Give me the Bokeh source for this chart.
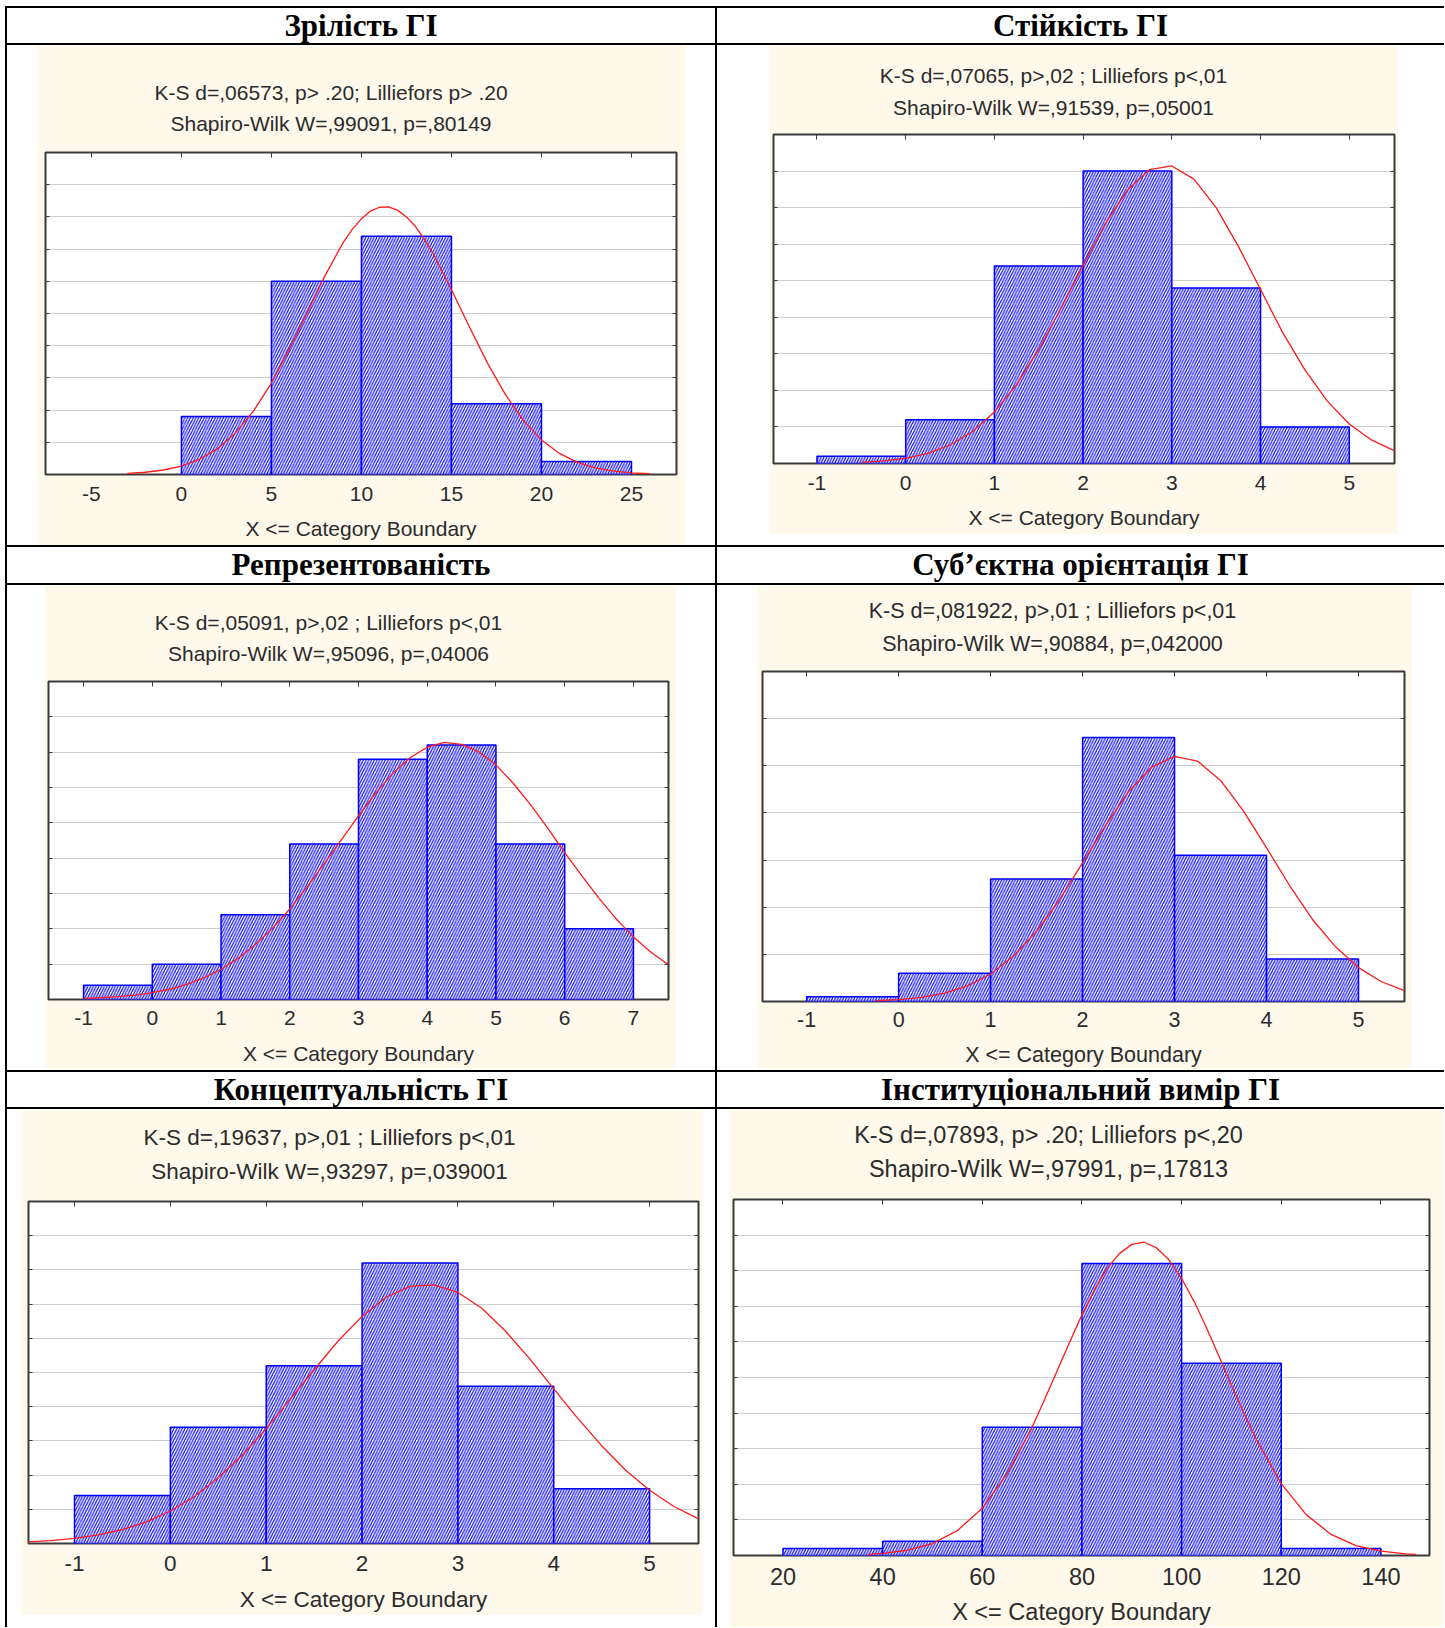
from bokeh.plotting import figure
from bokeh.layouts import row, column
from bokeh.models import (Range1d, Spacer, Title, LinearAxis, FixedTicker, Div,
                          SingleIntervalTicker, ColumnDataSource)
from bokeh.embed import file_html
from bokeh.resources import INLINE

# ---------------- data ----------------
titles = ["Зрілість ГІ", "Стійкість ГІ", "Репрезентованість",
          "Суб’єктна орієнтація ГІ", "Концептуальність ГІ", "Інституціональний вимір ГІ"]

stats_line1 = ["K-S d=,06573, p> .20; Lilliefors p> .20",
               "K-S d=,07065, p>,02 ; Lilliefors p<,01",
               "K-S d=,05091, p>,02 ; Lilliefors p<,01",
               "K-S d=,081922, p>,01 ; Lilliefors p<,01",
               "K-S d=,19637, p>,01 ; Lilliefors p<,01",
               "K-S d=,07893, p> .20; Lilliefors p<,20"]
stats_line2 = ["Shapiro-Wilk W=,99091, p=,80149",
               "Shapiro-Wilk W=,91539, p=,05001",
               "Shapiro-Wilk W=,95096, p=,04006",
               "Shapiro-Wilk W=,90884, p=,042000",
               "Shapiro-Wilk W=,93297, p=,039001",
               "Shapiro-Wilk W=,97991, p=,17813"]

x_label = "X <= Category Boundary"

edges1 = [0, 5, 10, 15, 20, 25]
counts1 = [9, 30, 37, 11, 2]
edges2 = [-1, 0, 1, 2, 3, 4, 5]
counts2 = [1, 6, 27, 40, 24, 5]
edges3 = [-1, 0, 1, 2, 3, 4, 5, 6, 7]
counts3 = [2, 5, 12, 22, 34, 36, 22, 10]
edges4 = [-1, 0, 1, 2, 3, 4, 5]
counts4 = [1, 6, 26, 56, 31, 9]
edges5 = [-1, 0, 1, 2, 3, 4, 5]
counts5 = [7, 17, 26, 41, 23, 8]
edges6 = [20, 40, 60, 80, 100, 120, 140]
counts6 = [1, 2, 18, 41, 27, 1]

curve1_x = [-3, -2, -1, 0, 1, 2, 3, 4, 5, 6, 7, 8, 9, 9.5, 10, 10.5, 11, 11.5, 12, 12.5,
            13, 13.5, 14, 15, 16, 17, 18, 19, 20, 21, 22, 23, 24, 25, 26]
curve1_y = [0.16, 0.35, 0.70, 1.31, 2.36, 4.01, 6.46, 9.85, 14.2, 19.5, 25.2, 31.0, 36.1, 38.1,
            39.7, 40.9, 41.5, 41.55, 41.05, 40.0, 38.5, 36.5, 34.2, 28.7, 22.9, 17.3, 12.4,
            8.37, 5.37, 3.27, 1.88, 1.03, 0.53, 0.26, 0.12]
curve2_x = [-0.5, -0.25, 0, 0.25, 0.5, 0.75, 1, 1.25, 1.5, 1.75, 2, 2.25, 2.5, 2.75, 3, 3.25,
            3.5, 3.75, 4, 4.25, 4.5, 4.75, 5, 5.25, 5.5]
curve2_y = [0.16, 0.35, 0.71, 1.38, 2.53, 4.34, 7.05, 10.8, 15.6, 21.2, 27.1, 32.8, 37.4, 40.2,
            40.7, 38.9, 35.0, 29.7, 23.8, 17.9, 12.8, 8.57, 5.41, 3.22, 1.80]
curve3_x = [-1, -0.75, -0.5, -0.25, 0, 0.25, 0.5, 0.75, 1, 1.25, 1.5, 1.75, 2, 2.25, 2.5, 2.75,
            3, 3.25, 3.5, 3.75, 4, 4.25, 4.5, 4.75, 5, 5.25, 5.5, 5.75, 6, 6.25, 6.5, 6.75, 7,
            7.25, 7.5]
curve3_y = [0.15, 0.25, 0.40, 0.63, 0.97, 1.45, 2.14, 3.06, 4.28, 5.85, 7.78, 10.1, 12.8, 15.9,
            19.2, 22.6, 26.0, 29.2, 32.0, 34.2, 35.7, 36.4, 36.1, 35.05, 33.2, 30.6, 27.6, 24.3,
            20.8, 17.5, 14.3, 11.4, 8.86, 6.73, 4.98]
curve4_x = [-0.25, 0, 0.25, 0.5, 0.75, 1, 1.25, 1.5, 1.75, 2, 2.25, 2.5, 2.75, 3, 3.25, 3.5,
            3.75, 4, 4.25, 4.5, 4.75, 5, 5.25, 5.5]
curve4_y = [0.18, 0.41, 0.88, 1.77, 3.32, 5.84, 9.64, 14.9, 21.6, 29.4, 37.3, 44.5, 49.7, 52.0,
            51.0, 46.9, 40.4, 32.6, 24.6, 17.4, 11.6, 7.19, 4.19, 2.29]
curve5_x = [-1.5, -1.25, -1, -0.75, -0.5, -0.25, 0, 0.25, 0.5, 0.75, 1, 1.25, 1.5, 1.75, 2,
            2.25, 2.5, 2.75, 3, 3.25, 3.5, 3.75, 4, 4.25, 4.5, 4.75, 5, 5.25, 5.5]
curve5_y = [0.24, 0.43, 0.75, 1.26, 2.03, 3.16, 4.75, 6.88, 9.62, 12.9, 16.8, 21.1, 25.4, 29.6,
            33.2, 36.0, 37.6, 37.8, 36.7, 34.4, 31.0, 27.0, 22.6, 18.3, 14.3, 10.7, 7.79, 5.45,
            3.68]
curve6_x = [37, 40, 45, 50, 55, 60, 65, 70, 72.5, 75, 77.5, 80, 82.5, 85, 87.5, 90, 92.5, 95,
            97.5, 100, 102.5, 105, 107.5, 110, 112.5, 115, 120, 125, 130, 135, 140, 145, 147]
curve6_y = [0.16, 0.29, 0.74, 1.68, 3.50, 6.64, 11.5, 18.0, 21.9, 25.9, 29.9, 33.8, 37.3, 40.3,
            42.4, 43.7, 44.0, 43.2, 41.5, 38.9, 35.7, 32.0, 28.0, 23.9, 20.0, 16.3, 10.1, 5.74,
            2.96, 1.39, 0.60, 0.23, 0.15]

ticks1 = [-5, 0, 5, 10, 15, 20, 25]
ticks2 = [-1, 0, 1, 2, 3, 4, 5]
ticks3 = [-1, 0, 1, 2, 3, 4, 5, 6, 7]
ticks4 = [-1, 0, 1, 2, 3, 4, 5]
ticks5 = [-1, 0, 1, 2, 3, 4, 5]
ticks6 = [20, 40, 60, 80, 100, 120, 140]
tick_labels1 = ["-5", "0", "5", "10", "15", "20", "25"]
tick_labels2 = ["-1", "0", "1", "2", "3", "4", "5"]
tick_labels3 = ["-1", "0", "1", "2", "3", "4", "5", "6", "7"]
tick_labels4 = ["-1", "0", "1", "2", "3", "4", "5"]
tick_labels5 = ["-1", "0", "1", "2", "3", "4", "5"]
tick_labels6 = ["20", "40", "60", "80", "100", "120", "140"]

grid_step = [5, 5, 5, 10, 5, 5]
x_lo = [-7.55, -1.49, -1.51, -1.48, -1.48, 10.07]
x_hi = [27.5, 5.51, 7.51, 5.5, 5.51, 149.75]
y_hi = [50, 45, 45, 70, 50, 50]

edges = [edges1, edges2, edges3, edges4, edges5, edges6]
counts = [counts1, counts2, counts3, counts4, counts5, counts6]
curves_x = [curve1_x, curve2_x, curve3_x, curve4_x, curve5_x, curve6_x]
curves_y = [curve1_y, curve2_y, curve3_y, curve4_y, curve5_y, curve6_y]
ticks = [ticks1, ticks2, ticks3, ticks4, ticks5, ticks6]
tick_labels = [tick_labels1, tick_labels2, tick_labels3, tick_labels4, tick_labels5, tick_labels6]

# ---------------- styles / geometry ----------------
CREAM = "#FFF9EC"
TXT = "#2b2b2b"
FRAME = "#3a3a3a"
SANS = "Liberation Sans"
SERIF = "Liberation Serif"

# advance widths (1/1000 em) of Liberation Sans, used to place the statistics lines
ADV = {" ": 278, ",": 278, "-": 333, ".": 278, ";": 278, "<": 584, "=": 584, ">": 584,
       "K": 667, "S": 667, "L": 556, "W": 944, "a": 556, "d": 556, "e": 556, "f": 278,
       "h": 556, "i": 222, "k": 500, "l": 222, "o": 556, "p": 556, "r": 333, "s": 500}


def text_width(s, fs):
    return sum(ADV.get(ch, 556) for ch in s) * fs / 1000.0


W = 1439
LEFT_W = 708
RIGHT_W = W - 2 - LEFT_W - 2
TITLE_H = [35, 36, 35]
CONTENT_H = [500, 485, 518]

# per cell: left pad, top pad, figure size, borders (l, r, t, b), font size,
# tick-label standoff, axis-label standoff, stats x offset from frame centre,
# title standoffs (line2, line1) and the gap kept between frame and the stats lines
cells = [
    dict(pad_l=29, pad_t=0, fw=649, fh=500, mb=(9, 9, 107, 71), fs=21, ts=12, als=13,
         off=-30, s2=12, s1=0, gap=12),
    dict(pad_l=52, pad_t=0, fw=629, fh=489, mb=(4, 3, 89, 71), fs=21, ts=12, als=13,
         off=-31, s2=15, s1=0, gap=8),
    dict(pad_l=37, pad_t=0, fw=632, fh=484, mb=(4, 8, 96, 70), fs=21, ts=11, als=14,
         off=-30, s2=13, s1=0, gap=10),
    dict(pad_l=39, pad_t=0, fw=656, fh=484, mb=(6, 8, 86, 68), fs=21.5, ts=10, als=13,
         off=-31, s2=15, s1=0, gap=8),
    dict(pad_l=13, pad_t=1, fw=682, fh=505, mb=(8, 4, 91, 72), fs=22.5, ts=12, als=13,
         off=-34, s2=14, s1=0, gap=11),
    dict(pad_l=12, pad_t=0, fw=715, fh=518, mb=(4, 15, 90, 72), fs=23.5, ts=12, als=11,
         off=-33, s2=13, s1=0, gap=11),
]


def black(w, h):
    return Spacer(width=w, height=h, styles={"background-color": "#000000"})


def title_div(i, w, h):
    style = (f"font-family:'{SERIF}',serif;font-weight:bold;font-size:31px;"
             f"line-height:{h}px;text-align:center;color:#000;width:{w}px;"
             f"height:{h}px;margin:0;padding:0;white-space:nowrap;")
    return Div(text=f'<div style="{style}">{titles[i]}</div>', width=w, height=h, margin=0)


def quiet_axis(ax, tick_in, tick_out=0, tick_color=FRAME):
    ax.major_label_text_font_size = "1px"
    ax.major_label_text_color = None
    ax.major_label_standoff = 0
    ax.major_tick_in = tick_in
    ax.major_tick_out = tick_out
    ax.minor_tick_line_color = None
    ax.axis_line_color = None
    ax.major_tick_line_color = tick_color


def hist_fig(i):
    c = cells[i]
    l, r, t, b = c["mb"]
    fs = c["fs"]
    p = figure(width=c["fw"], height=c["fh"],
               x_range=Range1d(x_lo[i], x_hi[i]), y_range=Range1d(0, y_hi[i]),
               toolbar_location=None, output_backend="svg",
               min_border_left=l, min_border_right=r, min_border_top=t, min_border_bottom=b,
               background_fill_color="white", border_fill_color=CREAM,
               outline_line_color=FRAME, outline_line_width=2)
    p.xgrid.visible = False
    p.ygrid.ticker = SingleIntervalTicker(interval=grid_step[i])
    p.ygrid.grid_line_color = "#9c9c9c"
    p.ygrid.grid_line_dash = "1 1"
    p.ygrid.grid_line_width = 1

    src = ColumnDataSource(dict(left=edges[i][:-1], right=edges[i][1:], top=counts[i],
                                bottom=[0] * len(counts[i])))
    p.quad(left="left", right="right", top="top", bottom="bottom", source=src,
           fill_color="white", line_color="#0000ff", line_width=1.5,
           hatch_pattern="/", hatch_color="#0a0aff", hatch_scale=5.5, hatch_weight=1.2)
    p.line(curves_x[i], curves_y[i], line_color="#ff1a1a", line_width=1.3)

    # bottom axis
    xa = p.xaxis[0]
    xa.ticker = FixedTicker(ticks=ticks[i])
    xa.major_label_overrides = {tk: lb for tk, lb in zip(ticks[i], tick_labels[i])}
    xa.major_label_text_font = SANS
    xa.major_label_text_font_size = f"{fs}px"
    xa.major_label_text_color = TXT
    xa.major_label_standoff = c["ts"]
    xa.major_tick_in = 0
    xa.major_tick_out = 0
    xa.minor_tick_line_color = None
    xa.axis_line_color = None
    xa.axis_label = x_label
    xa.axis_label_text_font = SANS
    xa.axis_label_text_font_style = "normal"
    xa.axis_label_text_font_size = f"{fs}px"
    xa.axis_label_text_color = TXT
    xa.axis_label_standoff = c["als"]

    # small inward ticks on the other three sides, no labels
    ya = p.yaxis[0]
    ya.ticker = SingleIntervalTicker(interval=grid_step[i])
    quiet_axis(ya, 4)
    ra = LinearAxis(ticker=SingleIntervalTicker(interval=grid_step[i]))
    quiet_axis(ra, 4)
    p.add_layout(ra, "right")
    ta = LinearAxis(ticker=FixedTicker(ticks=ticks[i]))
    quiet_axis(ta, 5)
    p.add_layout(ta, "above")
    # an empty top axis that only keeps a gap between the frame and the stats lines
    gap_axis = LinearAxis(ticker=FixedTicker(ticks=ticks[i]))
    quiet_axis(gap_axis, 0, c["gap"], None)
    p.add_layout(gap_axis, "above")

    # statistics text above the frame
    frame_w = c["fw"] - l - r
    centre = frame_w / 2 + c["off"]
    for txt, so in [(stats_line2[i], c["s2"]), (stats_line1[i], c["s1"])]:
        p.add_layout(Title(text=txt, align="left",
                           offset=centre - text_width(txt, fs) / 2, standoff=so,
                           text_font=SANS, text_font_size=f"{fs}px",
                           text_font_style="normal", text_color=TXT), "above")
    return p


def cell(i, cw, th, ch):
    c = cells[i]
    items = [title_div(i, cw, th), black(cw, 2)]
    if c["pad_t"] > 0:
        items.append(Spacer(width=cw, height=c["pad_t"]))
    rowitems = [Spacer(width=c["pad_l"], height=c["fh"]), hist_fig(i)]
    rest_w = cw - c["pad_l"] - c["fw"]
    if rest_w > 0:
        rowitems.append(Spacer(width=rest_w, height=c["fh"]))
    items.append(row(*rowitems))
    rest_h = ch - c["pad_t"] - c["fh"]
    if rest_h > 0:
        items.append(Spacer(width=cw, height=rest_h))
    return column(*items)


rows = [black(W, 2)]
for k in range(3):
    rh = TITLE_H[k] + 2 + CONTENT_H[k]
    rows.append(row(black(2, rh),
                    cell(2 * k, LEFT_W, TITLE_H[k], CONTENT_H[k]),
                    black(2, rh),
                    cell(2 * k + 1, RIGHT_W, TITLE_H[k], CONTENT_H[k])))
    if k < 2:
        rows.append(black(W, 2))

table = column(*rows)
page = column(Spacer(width=1444, height=6), row(Spacer(width=5, height=10), table))

with open("out.html", "w") as f:
    f.write(file_html(page, INLINE))
